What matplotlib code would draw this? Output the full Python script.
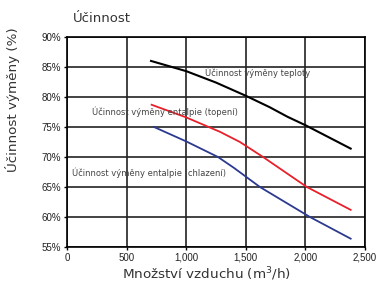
import matplotlib
matplotlib.use('Agg')
import matplotlib.pyplot as plt
from matplotlib.ticker import FuncFormatter

# values
x_teplo = [705, 1000, 1250, 1500, 1700, 1850, 2000, 2380]
y_teplo = [86.0, 84.3, 82.4, 80.2, 78.3, 76.7, 75.3, 71.4]

x_topeni = [710, 1000, 1283, 1451, 1645, 2013, 2380]
y_topeni = [78.7, 76.6, 74.2, 72.5, 70.0, 65.0, 61.2]

x_chlaz = [730, 1000, 1267, 1400, 1619, 2039, 2380]
y_chlaz = [75.0, 72.6, 70.0, 68.2, 65.0, 60.0, 56.4]

x_ticks = [0, 500, 1000, 1500, 2000, 2500]
y_ticks = [55, 60, 65, 70, 75, 80, 85, 90]

label_font = 'DejaVu Sans'
tick_font = 'Liberation Sans'

fig = plt.figure(figsize=(3.85, 2.84), dpi=100)
ax = fig.add_axes([0.174, 0.130, 0.774, 0.740])

ax.plot(x_teplo, y_teplo, color='black', lw=1.5)
ax.plot(x_topeni, y_topeni, color='#e8202a', lw=1.3)
ax.plot(x_chlaz, y_chlaz, color='#2b3990', lw=1.3)

ax.set_xlim(0, 2500)
ax.set_ylim(55, 90)
ax.set_xticks(x_ticks)
ax.set_yticks(y_ticks)
ax.xaxis.set_major_formatter(FuncFormatter(lambda v, p: f'{int(v):,}'))
ax.yaxis.set_major_formatter(FuncFormatter(lambda v, p: f'{int(v)}%'))
ax.grid(True, color='#222222', lw=1.2)
ax.set_axisbelow(True)
for s in ax.spines.values():
    s.set_color('black')
    s.set_linewidth(1.2)
ax.tick_params(length=2, width=1, labelsize=7, pad=2, labelcolor='#222222')
for t in ax.get_xticklabels() + ax.get_yticklabels():
    t.set_fontfamily(tick_font)

ax.text(1160, 84.0, 'Účinnost výměny teploty', fontsize=6.0, family=label_font,
        va='center', color='#444444')
ax.text(210, 77.5, 'Účinnost výměny entalpie (topení)', fontsize=6.0, family=label_font,
        va='center', color='#444444')
ax.text(40, 67.3, 'Účinnost výměny entalpie (chlazení)', fontsize=6.0, family=label_font,
        va='center', color='#444444')

ax.set_xlabel('Množství vzduchu (m$^3$/h)', fontsize=9.7, family=label_font,
              color='#333333')
ax.xaxis.set_label_coords(0.47, -0.085, transform=ax.transAxes)
ax.set_ylabel('Účinnost výměny (%)', fontsize=9.7, family=label_font,
              color='#333333')
ax.yaxis.set_label_coords(-0.158, 0.70, transform=ax.transAxes)
fig.text(0.19, 0.935, 'Účinnost', fontsize=9.5, family=label_font, color='#333333',
         va='center')

fig.savefig('out.png', dpi=100)
